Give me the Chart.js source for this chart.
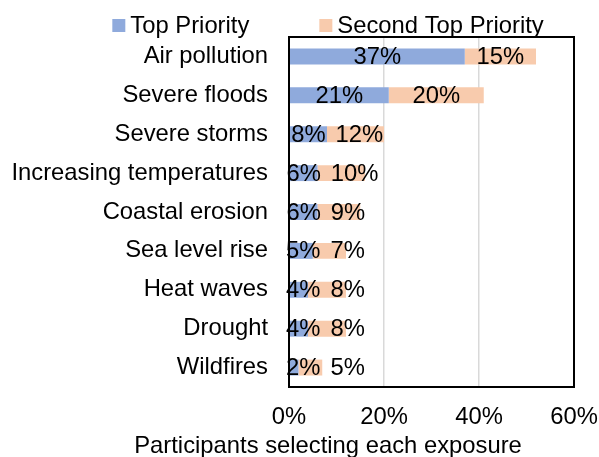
<!DOCTYPE html>
<html>
<head>
<meta charset="utf-8">
<script src="https://cdn.jsdelivr.net/npm/chart.js@4/dist/chart.umd.min.js"></script>
<style>
  html, body { margin: 0; padding: 0; background: #fff; }
  #wrap { width: 599px; height: 457px; position: relative; }
</style>
</head>
<body>
<div id="wrap"><canvas id="c"></canvas></div>
<script>
// Climate exposures and the share of participants ranking each one
const categories = [
  'Air pollution', 'Severe floods', 'Severe storms', 'Increasing temperatures',
  'Coastal erosion', 'Sea level rise', 'Heat waves', 'Drought', 'Wildfires'
];
const topPriority = [37, 21, 8, 6, 6, 5, 4, 4, 2];
const secondPriority = [15, 20, 12, 10, 9, 7, 8, 8, 5];
const seriesNames = ['Top Priority', 'Second Top Priority'];
const xTicks = [0, 20, 40, 60];
const axisTitle = 'Participants selecting each exposure';

const FONT = '"Liberation Sans", Arial, sans-serif';
const FS = 23.8;
const BLUE = '#8faadc';
const PEACH = '#f8cbad';

Chart.defaults.color = '#000';
Chart.defaults.font.family = FONT;
Chart.defaults.font.size = FS;

// Legend, axis title, plot frame and value labels drawn on the canvas
const decorations = {
  id: 'decorations',
  afterDatasetsDraw(chart) {
    const ctx = chart.ctx;
    const area = chart.chartArea;
    ctx.save();
    ctx.font = FS + 'px ' + FONT;
    ctx.fillStyle = '#000';

    // value labels centred in each segment, nudged to stay readable
    ctx.textBaseline = 'middle';
    ctx.textAlign = 'center';
    const metas = chart.data.datasets.map((d, i) => chart.getDatasetMeta(i));
    chart.data.labels.forEach((_, idx) => {
      let prevRight = -Infinity;
      metas.forEach((meta, di) => {
        const bar = meta.data[idx];
        const v = chart.data.datasets[di].data[idx];
        const text = v + '%';
        const w = ctx.measureText(text).width;
        let cx = (bar.x + bar.base) / 2;
        cx = Math.max(cx, area.left - 3 + w / 2);
        cx = Math.max(cx, prevRight + 10 + w / 2);
        ctx.fillText(text, cx, bar.y + 1);
        prevRight = cx + w / 2;
      });
    });

    // plot frame
    ctx.strokeStyle = '#000';
    ctx.lineWidth = 2;
    ctx.strokeRect(area.left, area.top, area.right - area.left, area.bottom - area.top);

    // legend
    ctx.textAlign = 'left';
    ctx.textBaseline = 'alphabetic';
    const box = 13, gapText = 5, gapItem = 70;
    const colors = chart.data.datasets.map(d => d.backgroundColor);
    const names = chart.data.datasets.map(d => d.label);
    const widths = names.map(n => ctx.measureText(n).width);
    let total = 0;
    widths.forEach((w, i) => { total += box + gapText + w + (i ? gapItem : 0); });
    let x = 328 - total / 2;
    names.forEach((n, i) => {
      ctx.fillStyle = colors[i];
      ctx.fillRect(x, 19, box, box);
      ctx.fillStyle = '#000';
      ctx.fillText(n, x + box + gapText, 32.5);
      x += box + gapText + widths[i] + gapItem;
    });

    // x axis title
    ctx.textAlign = 'center';
    ctx.fillText(axisTitle, 328, 453);
    ctx.restore();
  }
};

new Chart(document.getElementById('c'), {
  type: 'bar',
  data: {
    labels: categories,
    datasets: [
      { label: seriesNames[0], data: topPriority, backgroundColor: BLUE,
        barPercentage: 0.41, categoryPercentage: 1 },
      { label: seriesNames[1], data: secondPriority, backgroundColor: PEACH,
        barPercentage: 0.41, categoryPercentage: 1 }
    ]
  },
  options: {
    indexAxis: 'y',
    responsive: true,
    maintainAspectRatio: false,
    animation: false,
    layout: { padding: { top: 37, right: 0, left: 0, bottom: 0 } },
    plugins: {
      legend: { display: false },
      tooltip: { enabled: false }
    },
    scales: {
      x: {
        stacked: true,
        min: 0, max: 60,
        afterBuildTicks(scale) { scale.ticks = xTicks.map(v => ({ value: v })); },
        afterFit(scale) {
          scale.height = 70;
          scale.paddingLeft = 0;
          scale.paddingRight = 25;
        },
        ticks: { padding: 16, callback: v => v + '%', font: { size: FS } },
        grid: {
          drawTicks: false,
          lineWidth: 1.5,
          color: ctx => (ctx.tick && (ctx.tick.value === 0 || ctx.tick.value === 60)) ? 'rgba(0,0,0,0)' : '#d9d9d9'
        },
        border: { display: false }
      },
      y: {
        stacked: true,
        afterFit(scale) { scale.width = 289; },
        ticks: { padding: 21, font: { size: FS } },
        grid: { display: false, drawTicks: false },
        border: { display: false }
      }
    }
  },
  plugins: [decorations]
});
</script>
</body>
</html>
